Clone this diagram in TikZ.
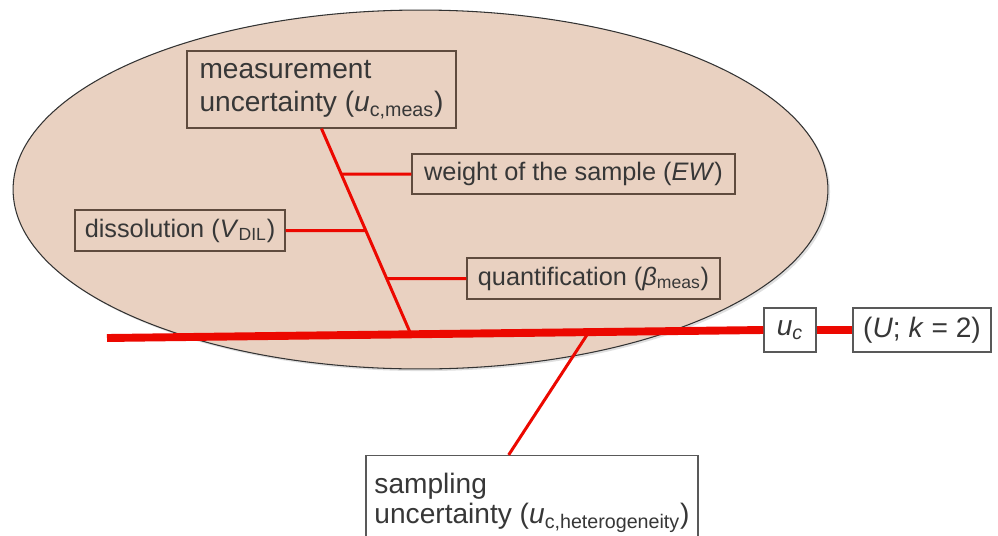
\documentclass[tikz,border=0pt]{standalone}
\usepackage{xcolor,tikz}
\usepackage{fontspec}
\setmainfont{Liberation Sans}
\usetikzlibrary{calc,shadows}
\definecolor{blob}{RGB}{233,209,193}
\definecolor{boxline}{RGB}{95,75,62}
\definecolor{ink}{RGB}{55,55,55}
\definecolor{bone}{RGB}{236,8,0}

\begin{document}
\begin{tikzpicture}[x=0.02cm, y=-0.02cm,
    font=\fontsize{14.4}{18}\selectfont, text=ink,
    big/.style={font=\fontsize{16}{19}\selectfont},
    inbox/.style={draw=boxline, line width=0.7pt, align=left, inner sep=0pt},
    outbox/.style={draw=black!65, fill=white, line width=0.7pt, align=left, inner sep=0pt},
    spine/.style={draw=bone, line width=4.5pt},
    twig/.style={draw=bone, line width=1.7pt}]
    \clip (0,0) rectangle (998,535);
    \fill[white] (0,0) rectangle (998,535);
    \draw[fill=blob, draw=black!80, line width=0.6pt,
        drop shadow={shadow xshift=1.2pt, shadow yshift=-1.2pt, opacity=0.25}]
        (420.5,189.5) ellipse [x radius=8.15cm, y radius=3.59cm];

    \node (meas) [inbox, big, minimum width=5.38cm, minimum height=1.54cm] at (321.5,89.5) {measurement\\uncertainty (\textit{u}\textsubscript{c,meas})};
    \node (wt) [inbox, minimum width=6.46cm, minimum height=0.80cm] at (573.5,174) {weight of the sample (\textit{EW})};
    \node (dil) [inbox, minimum width=4.20cm, minimum height=0.82cm] at (180,230.5) {dissolution (\textit{V}\textsubscript{DIL})};
    \node (quant) [inbox, minimum width=5.06cm, minimum height=0.82cm] at (593.5,278.5) {quantification (\textit{β}\textsubscript{meas})};
    \node (uc) [outbox, big, minimum width=1.04cm, minimum height=0.88cm] at (790,330) {\textit{u}\textsubscript{\textit{c}}};
    \node (Uk) [outbox, big, minimum width=2.76cm, minimum height=0.88cm] at (922,330) {(\textit{U}; \textit{k} = 2)};
    \node (samp) [outbox, font=\fontsize{16}{17}\selectfont, minimum width=6.64cm, minimum height=1.90cm] at (532,503) {sampling\\uncertainty (\textit{u}\textsubscript{c,heterogeneity})};

    \coordinate (tail) at (107,338);
    \coordinate (mj) at ($(tail)!0.463!(uc.west)$);
    \coordinate (sj) at ($(tail)!0.734!(uc.west)$);
    \coordinate (sampin) at ($(samp.north west)!0.43!(samp.north east)$);
    \coordinate (wtx) at (wt.west -| meas.south);
    \coordinate (dilx) at (dil.east -| meas.south);
    \coordinate (quantx) at (quant.west -| meas.south);
    \coordinate (wtj) at (intersection of meas.south--mj and wt.west--wtx);
    \coordinate (dilj) at (intersection of meas.south--mj and dil.east--dilx);
    \coordinate (quantj) at (intersection of meas.south--mj and quant.west--quantx);

    \draw[spine] (tail) -- (uc.west);
    \draw[spine, line width=4pt] (uc.east) -- (Uk.west);
    \draw[twig] (meas.south) -- (mj);
    \draw[twig] (wtj) -- (wt.west);
    \draw[twig] (dil.east) -- (dilj);
    \draw[twig] (quantj) -- (quant.west);
    \draw[twig] (sj) -- (sampin);
\end{tikzpicture}
\end{document}
